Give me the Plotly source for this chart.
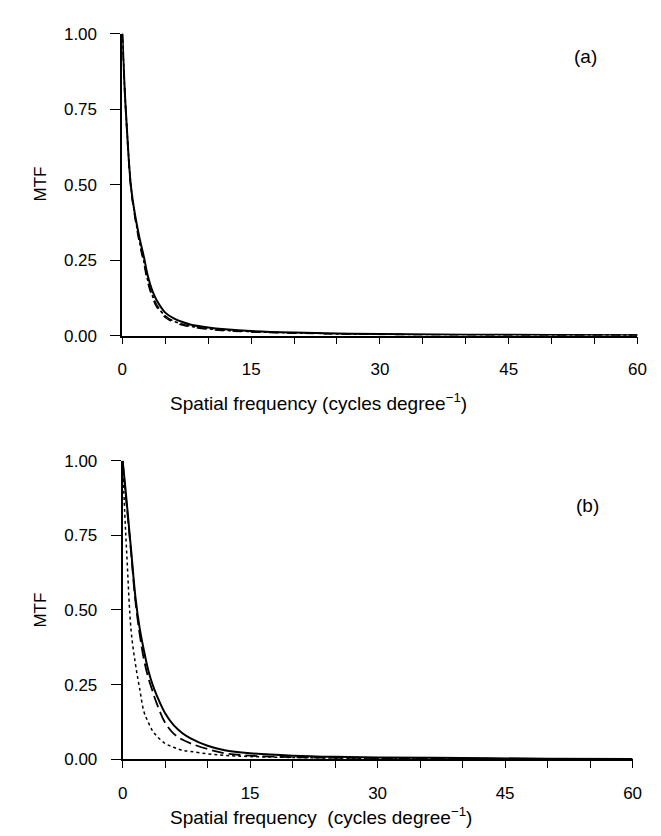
import plotly.graph_objects as go

# Spatial frequencies (cycles/degree) at which curves were read
freq = [0, 0.25, 0.5, 1, 1.5, 2, 2.5, 3, 3.5, 4, 5, 6, 7, 8, 10, 12, 15, 20, 25, 30, 40, 50, 60]

# Panel (a) MTF curves
a_solid = [1, 0.83, 0.70, 0.495, 0.397, 0.323, 0.262, 0.194, 0.148, 0.117, 0.076, 0.057, 0.045, 0.036,
           0.027, 0.021, 0.015, 0.010, 0.007, 0.005, 0.003, 0.002, 0.001]
a_dash = [1, 0.82, 0.69, 0.485, 0.385, 0.305, 0.24, 0.172, 0.127, 0.095, 0.060, 0.044, 0.035, 0.029,
          0.021, 0.016, 0.012, 0.008, 0.006, 0.004, 0.002, 0.001, 0.001]
a_dashdot = [1, 0.825, 0.695, 0.49, 0.39, 0.312, 0.25, 0.18, 0.135, 0.103, 0.066, 0.048, 0.038, 0.031,
             0.023, 0.018, 0.013, 0.009, 0.006, 0.004, 0.003, 0.002, 0.001]
a_dot = [1, 0.84, 0.71, 0.50, 0.39, 0.31, 0.245, 0.176, 0.13, 0.10, 0.064, 0.047, 0.037, 0.030,
         0.022, 0.017, 0.013, 0.009, 0.006, 0.004, 0.003, 0.002, 0.001]

# Panel (b) MTF curves
b_solid = [1, 0.93, 0.855, 0.70, 0.545, 0.44, 0.365, 0.30, 0.252, 0.215, 0.154, 0.114, 0.088, 0.070,
           0.045, 0.030, 0.020, 0.012, 0.008, 0.006, 0.004, 0.002, 0.001]
b_dash = [1, 0.92, 0.845, 0.69, 0.53, 0.42, 0.335, 0.275, 0.23, 0.188, 0.122, 0.086, 0.066, 0.053,
          0.034, 0.020, 0.012, 0.007, 0.005, 0.004, 0.002, 0.001, 0.001]
b_dot = [1, 0.825, 0.68, 0.43, 0.32, 0.237, 0.16, 0.125, 0.096, 0.078, 0.053, 0.040, 0.030, 0.026,
         0.018, 0.013, 0.009, 0.006, 0.004, 0.003, 0.002, 0.001, None]

x_ticks = [0, 15, 30, 45, 60]
y_ticks = [0, 0.25, 0.5, 0.75, 1.0]
y_ticktext = ["0.00", "0.25", "0.50", "0.75", "1.00"]

FONT = "Liberation Sans, Arial, Helvetica, sans-serif"
W, H = 661, 836

fig = go.Figure()

def add(x, y, ax, dash, width):
    fig.add_trace(go.Scatter(x=x, y=y, xaxis=ax[0], yaxis=ax[1], mode="lines",
                             line=dict(color="black", width=width, dash=dash),
                             line_shape="spline", showlegend=False, hoverinfo="skip",
                             connectgaps=False))

add(freq, a_dot, ("x", "y"), "dot", 1.3)
add(freq, a_dashdot, ("x", "y"), "dashdot", 1.3)
add(freq, a_dash, ("x", "y"), "dash", 1.5)
add(freq, a_solid, ("x", "y"), "solid", 2)

add(freq, b_dot, ("x2", "y2"), "dot", 1.5)
add(freq, b_dash, ("x2", "y2"), "12px,5px", 1.8)
add(freq, b_solid, ("x2", "y2"), "solid", 2)

def xaxis(domain, anchor):
    return dict(domain=domain, anchor=anchor, range=[0, 60], tickvals=x_ticks,
                showgrid=False, zeroline=False, showline=True, linecolor="black", linewidth=1.8,
                ticks="outside", ticklen=7, tickwidth=1.3, tickcolor="black",
                minor=dict(dtick=5, ticks="outside", ticklen=7, tickwidth=1.3, tickcolor="black"),
                tickfont=dict(family=FONT, size=17, color="black"), ticklabelstandoff=10)

def yaxis(domain, anchor):
    return dict(domain=domain, anchor=anchor, range=[0, 1], tickvals=y_ticks, ticktext=y_ticktext,
                showgrid=False, zeroline=False, showline=True, linecolor="black", linewidth=1.8,
                ticks="outside", ticklen=10, tickwidth=1.3, tickcolor="black",
                tickfont=dict(family=FONT, size=17, color="black"), ticklabelstandoff=10)

fig.update_layout(
    width=W, height=H, margin=dict(l=0, r=0, t=0, b=0),
    paper_bgcolor="white", plot_bgcolor="white",
    xaxis=xaxis([111.7 / W, 638 / W], "y"),
    yaxis=yaxis([1 - 326 / H, 1 - 17 / H], "x"),
    xaxis2=xaxis([112 / W, 633 / W], "y2"),
    yaxis2=yaxis([1 - 759.5 / H, 1 - 454 / H], "x2"),
)

def txt(x, y, s, size=15, angle=0, xanchor="center"):
    fig.add_annotation(x=x / W, y=1 - y / H, xref="paper", yref="paper", text=s, showarrow=False,
                       xanchor=xanchor, yanchor="middle", textangle=angle,
                       font=dict(family=FONT, size=size, color="black"))

txt(158, 394, "Spatial frequency (cycles degree<sup>−1</sup>)", 19, xanchor="left")
txt(158, 818, "Spatial frequency  (cycles degree<sup>−1</sup>)", 19, xanchor="left")
txt(28, 171, "MTF", 17, -90)
txt(28, 607, "MTF", 17, -90)
txt(585, 40, "(a)", 19)
txt(587, 500, "(b)", 19)

fig.write_html("out.html")
